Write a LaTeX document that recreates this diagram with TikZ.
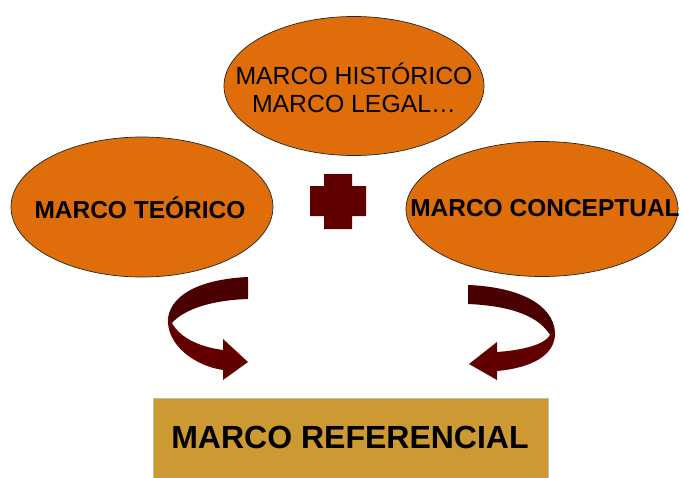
\documentclass[tikz,border=0pt]{standalone}
\usepackage{fontspec}
\setmainfont{Liberation Sans}
\usetikzlibrary{shapes.geometric}
\definecolor{orangeF}{RGB}{223,110,10}
\definecolor{goldF}{RGB}{204,153,51}
\definecolor{darkA}{RGB}{74,0,0}
\definecolor{darkB}{RGB}{98,0,0}
\definecolor{plusC}{RGB}{96,0,0}
\tikzset{
  oval/.style={ellipse, fill=orangeF, draw=black!85, line width=0.7pt, inner sep=0pt},
  boldtxt/.style={font=\fontsize{24.5}{29}\selectfont\bfseries, inner sep=0pt, align=center},
  regtxt/.style={font=\fontsize{24.8}{28.5}\selectfont, inner sep=0pt, align=center},
}
\begin{document}
\begin{tikzpicture}[x=1pt,y=-1pt]
\useasboundingbox (0,0) rectangle (683,477);
% ellipses
\node[oval, minimum width=260pt, minimum height=139pt] (hist) at (354,86) {};
\node[regtxt] (histT) at (354,88) {MARCO HISTÓRICO\\MARCO LEGAL…};
\node[oval, minimum width=262pt, minimum height=140pt] (teor) at (142,207) {};
\node[boldtxt] (teorT) at (140,208) {MARCO TEÓRICO};
\node[oval, minimum width=272pt, minimum height=135pt] (conc) at (542,209) {};
\node[boldtxt] (concT) at (545,208) {MARCO CONCEPTUAL};
% plus
\fill[plusC] (324,174) -- (352,174) -- (352,186) -- (366,186) -- (366,216) -- (352,216) -- (352,229) -- (324,229) -- (324,216) -- (310,216) -- (310,186) -- (324,186) -- cycle;
\coordinate (plus) at (338,201);
% left curved arrow
\fill[darkA] (248,277) .. controls (205,279) and (172,292) .. (168,318)
  -- (172,323) .. controls (185,308) and (215,300) .. (248,299) -- cycle;
\fill[darkB] (168,318) .. controls (166,345) and (195,366) .. (223,370)
  -- (223,380) -- (248,362) -- (223,339) -- (223,350)
  .. controls (200,347) and (180,338) .. (172,323) -- cycle;
% right curved arrow
\fill[darkA] (468,285) .. controls (520,287) and (553,305) .. (555,332)
  -- (550,335) .. controls (540,318) and (515,306) .. (468,304) -- cycle;
\fill[darkB] (555,332) .. controls (556,356) and (530,368) .. (497,371)
  -- (497,380) -- (469,364) -- (497,342) -- (497,352)
  .. controls (525,350) and (545,344) .. (550,335) -- cycle;
% result box
\fill[goldF] (153,398) rectangle (548,478);
\draw[black!25, line width=0.6pt] (153,478) -- (153,398) -- (548,398) -- (548,478);
\node[font=\fontsize{32}{38}\selectfont\bfseries, inner sep=0pt] (ref) at (350,437) {MARCO REFERENCIAL};
\end{tikzpicture}
\end{document}
